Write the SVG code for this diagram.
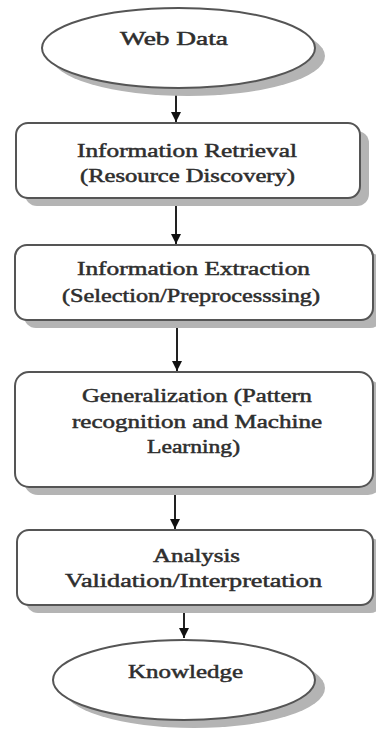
<svg xmlns="http://www.w3.org/2000/svg" width="376" height="731" viewBox="0 0 376 731">
<defs>
<style>
.shadow{fill:#b4b4b4;stroke:none}
.shape{fill:#ffffff;stroke:#555555;stroke-width:2}
.t{font-family:"Liberation Serif","Times New Roman",serif;font-size:19px;font-weight:normal;fill:#2e2e2e;stroke:#2e2e2e;stroke-width:0.5;text-anchor:middle}
.conn{stroke:#222222;stroke-width:2;fill:none;marker-end:url(#arrow)}
</style>
<marker id="arrow" viewBox="0 0 10 10" refX="10" refY="5" markerWidth="5" markerHeight="5" markerUnits="strokeWidth" orient="auto">
<path d="M0,0 L10,5 L0,10 Z" fill="#111111"/>
</marker>
</defs>
<rect width="376" height="731" fill="#ffffff"/>
<g id="connectors">
<line class="conn" x1="176" y1="89" x2="176" y2="122"/>
<line class="conn" x1="176" y1="199" x2="176" y2="244"/>
<line class="conn" x1="177" y1="321" x2="177" y2="371"/>
<line class="conn" x1="175" y1="489" x2="175" y2="529"/>
<line class="conn" x1="184" y1="606" x2="184" y2="638"/>
</g>
<g id="web-data">
<ellipse class="shadow" cx="188" cy="56" rx="137" ry="40"/>
<ellipse class="shape" cx="178.5" cy="48" rx="136.5" ry="40"/>
<text class="t" x="174" y="45" textLength="108" lengthAdjust="spacingAndGlyphs">Web Data</text>
</g>
<g id="information-retrieval">
<rect class="shadow" x="25" y="131" width="344" height="75" rx="12"/>
<rect class="shape" x="16" y="123" width="344" height="75" rx="12"/>
<text class="t" x="187" y="157" textLength="220" lengthAdjust="spacingAndGlyphs">Information Retrieval</text>
<text class="t" x="187.5" y="182" textLength="215" lengthAdjust="spacingAndGlyphs">(Resource Discovery)</text>
</g>
<g id="information-extraction">
<rect class="shadow" x="24" y="253" width="358" height="75" rx="12"/>
<rect class="shape" x="15" y="245" width="358" height="75" rx="12"/>
<text class="t" x="193.5" y="275" textLength="233" lengthAdjust="spacingAndGlyphs">Information Extraction</text>
<text class="t" x="191" y="302" textLength="258" lengthAdjust="spacingAndGlyphs">(Selection/Preprocesssing)</text>
</g>
<g id="generalization">
<rect class="shadow" x="24" y="380" width="358" height="115" rx="14"/>
<rect class="shape" x="15" y="372" width="358" height="115" rx="14"/>
<text class="t" x="197" y="402" textLength="230" lengthAdjust="spacingAndGlyphs">Generalization (Pattern</text>
<text class="t" x="197" y="428" textLength="250" lengthAdjust="spacingAndGlyphs">recognition and Machine</text>
<text class="t" x="193.5" y="453" textLength="93" lengthAdjust="spacingAndGlyphs">Learning)</text>
</g>
<g id="analysis">
<rect class="shadow" x="26" y="538" width="356" height="75" rx="12"/>
<rect class="shape" x="17" y="530" width="356" height="75" rx="12"/>
<text class="t" x="196.5" y="562" textLength="87" lengthAdjust="spacingAndGlyphs">Analysis</text>
<text class="t" x="193.5" y="587" textLength="257" lengthAdjust="spacingAndGlyphs">Validation/Interpretation</text>
</g>
<g id="knowledge">
<ellipse class="shadow" cx="194" cy="688" rx="131" ry="40"/>
<ellipse class="shape" cx="184" cy="680" rx="131" ry="40"/>
<text class="t" x="185.5" y="678" textLength="115" lengthAdjust="spacingAndGlyphs">Knowledge</text>
</g>
</svg>
